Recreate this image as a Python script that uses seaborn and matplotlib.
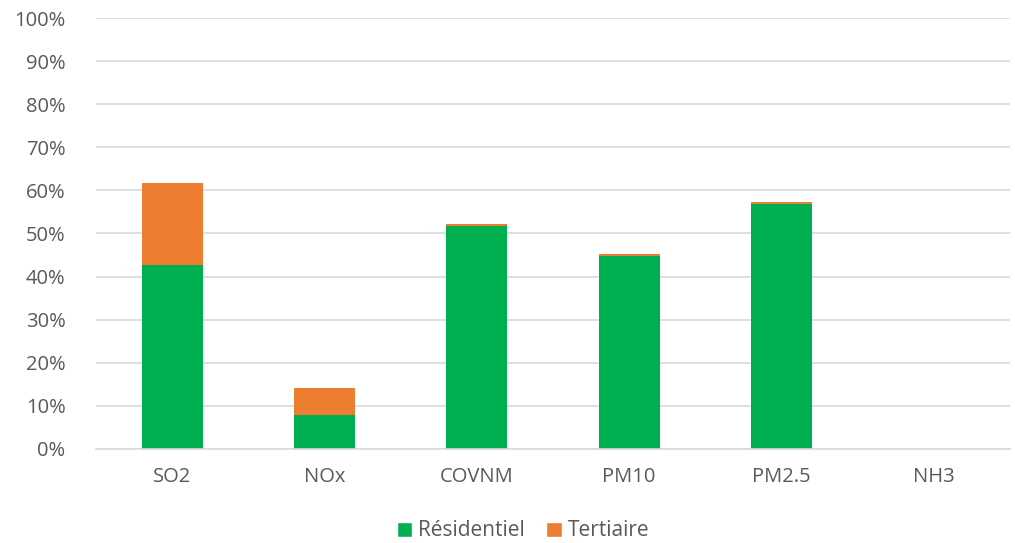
import matplotlib
matplotlib.use("Agg")
import matplotlib.pyplot as plt
import seaborn as sns
import pandas as pd
from matplotlib.patches import Patch

categories = ["SO2", "NOx", "COVNM", "PM10", "PM2.5", "NH3"]
residentiel = [42.7, 7.9, 51.8, 44.7, 56.8, 0.0]
tertiaire = [19.0, 6.3, 0.4, 0.5, 0.6, 0.0]

green = "#00b050"
orange = "#ed7d31"
grey_text = "#595959"
grid_col = "#d9d9d9"

sns.set_theme(style="white")
plt.rcParams["font.family"] = ["Open Sans", "DejaVu Sans"]

df = pd.DataFrame({"cat": categories, "res": residentiel, "ter": tertiaire})
df["total"] = df["res"] + df["ter"]

fig = plt.figure(figsize=(10.15, 5.43), dpi=100)
ax = fig.add_axes([96 / 1015, (543 - 449) / 543, (1010 - 96) / 1015, 431 / 543])

sns.barplot(data=df, x="cat", y="total", color=orange, width=0.4, ax=ax,
            saturation=1, linewidth=0)
sns.barplot(data=df, x="cat", y="res", color=green, width=0.4, ax=ax,
            saturation=1, linewidth=0)

ax.set_ylim(0, 100)
ax.set_xlim(-0.5, 5.5)
ax.set_yticks(range(0, 101, 10))
ax.set_yticklabels([f"{v}%" for v in range(0, 101, 10)])
ax.yaxis.grid(True, color=grid_col, linewidth=1.2)
ax.set_axisbelow(True)
for s in ["top", "right", "left"]:
    ax.spines[s].set_visible(False)
ax.spines["bottom"].set_color(grid_col)
ax.spines["bottom"].set_linewidth(1.2)
ax.set_xlabel("")
ax.set_ylabel("")
ax.tick_params(axis="both", length=0, labelsize=14.5, colors=grey_text)
ax.tick_params(axis="y", pad=22)
ax.tick_params(axis="x", pad=13)

handles = [Patch(facecolor=green, label="Résidentiel"),
           Patch(facecolor=orange, label="Tertiaire")]
fig.legend(handles=handles, loc="center", bbox_to_anchor=(523 / 1015, 1 - 531 / 543),
           ncol=2, frameon=False, fontsize=15, labelcolor=grey_text,
           handlelength=0.75, handleheight=0.75, handletextpad=0.3, columnspacing=1.0)

fig.savefig("out.png", dpi=100)
